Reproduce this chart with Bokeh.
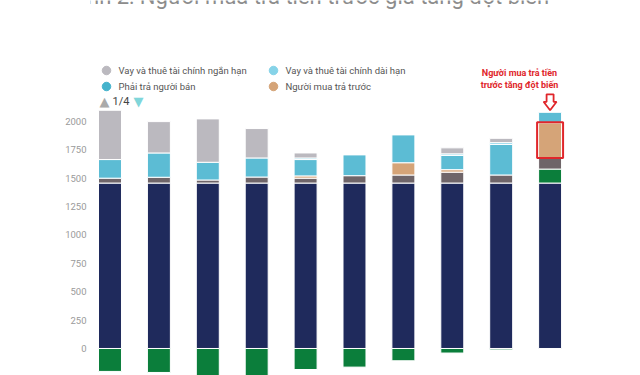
import numpy as np
from bokeh.plotting import figure
from bokeh.models import Range1d, FixedTicker, Label
from bokeh.embed import file_html
from bokeh.resources import INLINE

# ---------------- data ----------------
title_text = "Hình 2: Người mua trả tiền trước giá tăng đột biến"
periods = list(range(10))  # x-axis labels are cut off in the reference
navy_vals = [1457, 1457, 1457, 1457, 1457, 1457, 1457, 1457, 1457, 1457]
green_vals = [-202, -211, -250, -246, -185, -164, -108, -40, -12, 123]
brown_vals = [43, 51, 27, 53, 43, 65, 71, 96, 71, 102]
tan_vals = [0, 0, 0, 0, 20, 0, 108, 22, 0, 306]
cyan_vals = [164, 214, 156, 168, 144, 183, 245, 125, 269, 92]
lightcyan_vals = [0, 0, 0, 0, 14, 0, 0, 14, 16, 0]
gray_vals = [434, 276, 382, 259, 44, 0, 0, 53, 38, 0]
y_ticks = [-250, 0, 250, 500, 750, 1000, 1250, 1500, 1750, 2000]
legend_labels = ["Vay và thuê tài chính ngắn hạn", "Vay và thuê tài chính dài hạn",
                 "Phải trả người bán", "Người mua trả trước"]
annot_lines = ["Người mua trả tiền", "trước tăng đột biến"]
highlight_index = 9

C_NAVY = "#1f2a5c"
C_GREEN = "#0b7e3b"
C_BROWN = "#6f6569"
C_TAN = "#d5a478"
C_CYAN = "#5cbcd4"
C_LCYAN = "#86d3e8"
C_GRAY = "#bbb9bf"
C_RED = "#e0262b"

W, H = 640, 375
LEFT = 90
x_start, x_end = -0.3988, 10.849
y_start, y_end = -237.8, 3064.7
px_y = (y_end - y_start) / H          # data units per pixel (y)
px_x = (x_end - x_start) / (W - LEFT)  # data units per pixel (x)
BAR_W = 0.47


def dx(px):  # canvas pixel x -> data x
    return x_start + (px - LEFT) * px_x


def dy(py):  # canvas pixel y (from top) -> data y
    return y_start + (H - py) * px_y


p = figure(width=W, height=H, output_backend="svg", toolbar_location=None,
           x_range=Range1d(x_start, x_end), y_range=Range1d(y_start, y_end),
           min_border_left=LEFT, min_border_right=0, min_border_top=0, min_border_bottom=0)
p.outline_line_color = None
p.grid.visible = False
p.xaxis.visible = False
ya = p.yaxis[0]
ya.ticker = FixedTicker(ticks=y_ticks)
ya.axis_line_color = None
ya.major_tick_line_color = None
ya.minor_tick_line_color = None
ya.major_tick_out = 0
ya.major_tick_in = 0
ya.major_label_standoff = 4
ya.major_label_text_color = "#9a9a9a"
ya.major_label_text_font = "Roboto"
ya.major_label_text_font_size = "9.5px"

x = np.array(periods, dtype=float)
stack = [
    (navy_vals, C_NAVY),
    (green_vals, C_GREEN),
    (brown_vals, C_BROWN),
    (tan_vals, C_TAN),
    (cyan_vals, C_CYAN),
    (lightcyan_vals, C_LCYAN),
    (gray_vals, C_GRAY),
]
pos = np.zeros(len(x))
neg = np.zeros(len(x))
bounds = {}
for vals, color in stack:
    v = np.array(vals, dtype=float)
    bottom = np.where(v >= 0, pos, neg)
    top = bottom + v
    pos = np.where(v >= 0, top, pos)
    neg = np.where(v < 0, top, neg)
    bounds[color] = (bottom, top)
    m = v != 0
    p.vbar(x=x[m], bottom=bottom[m], top=top[m], width=BAR_W,
           fill_color=color, line_color="white", line_width=1)

# highlight rectangle around the tan segment of the last bar
tb, tt = bounds[C_TAN]
i = highlight_index
p.quad(left=[x[i] - BAR_W / 2 - 1.5 * px_x], right=[x[i] + BAR_W / 2 + 1.5 * px_x],
       bottom=[tb[i] - 0.5 * px_y], top=[tt[i] + 0.5 * px_y],
       fill_color=None, line_color=C_RED, line_width=2)

# hollow down arrow above the last bar
top_i = pos[i]
tip = top_i + 2 * px_y
head_base = tip + 8.5 * px_y
shaft_top = head_base + 7.5 * px_y
hw = 6.5 * px_x
sw = 3.5 * px_x
ax = [x[i], x[i] - hw, x[i] - sw, x[i] - sw, x[i] + sw, x[i] + sw, x[i] + hw]
ay = [tip, head_base, head_base, shaft_top, shaft_top, head_base, head_base]
p.patch(ax, ay, fill_color="white", line_color=C_RED, line_width=1.8)

for k, line in enumerate(annot_lines):
    p.add_layout(Label(x=519 - LEFT, y=H - (72 + 12 * k), x_units="screen", y_units="screen",
                       text=line, text_align="center", text_baseline="middle",
                       text_font="Roboto", text_font_size="9px", text_font_style="bold",
                       text_color=C_RED))

# title (cut off at top of the canvas)
p.add_layout(Label(x=307 - LEFT, y=H + 4, x_units="screen", y_units="screen",
                   text=title_text, text_align="center", text_baseline="alphabetic",
                   text_font="Roboto", text_font_size="22px", text_color="#8c8c8c"))

# partially visible -250 tick label
p.add_layout(Label(x=-4, y=y_ticks[0], x_units="screen", y_units="data",
                   text=str(y_ticks[0]), text_align="right", text_baseline="middle",
                   text_font="Roboto", text_font_size="9.5px", text_color="#9a9a9a"))

# legend (two columns, circle markers), drawn manually
leg_colors = [C_GRAY, C_LCYAN, "#45b3cc", C_TAN]
leg_px = [(106, 70), (273, 70), (106, 86), (273, 86)]
p.scatter(x=[dx(a) for a, _ in leg_px], y=[dy(b) for _, b in leg_px], marker="circle",
          size=8.5, fill_color=leg_colors, line_color=leg_colors)
for (a, b), lab in zip(leg_px, legend_labels):
    p.add_layout(Label(x=a + 12 - LEFT, y=H - b, x_units="screen", y_units="screen",
                       text=lab, text_align="left", text_baseline="middle",
                       text_font="Roboto", text_font_size="9.5px", text_color="#555555"))

# legend pager
p.add_layout(Label(x=104 - LEFT, y=H - 101, x_units="screen", y_units="screen", text="▲",
                   text_align="center", text_baseline="middle", text_font="DejaVu Sans",
                   text_font_size="13px", text_color="#aaaaaa"))
p.add_layout(Label(x=112 - LEFT, y=H - 101, x_units="screen", y_units="screen", text="1/4",
                   text_align="left", text_baseline="middle", text_font="Roboto",
                   text_font_size="11px", text_color="#444444"))
p.add_layout(Label(x=138 - LEFT, y=H - 101, x_units="screen", y_units="screen", text="▼",
                   text_align="center", text_baseline="middle", text_font="DejaVu Sans",
                   text_font_size="13px", text_color="#80d6da"))

open("out.html", "w").write(file_html(p, INLINE))
